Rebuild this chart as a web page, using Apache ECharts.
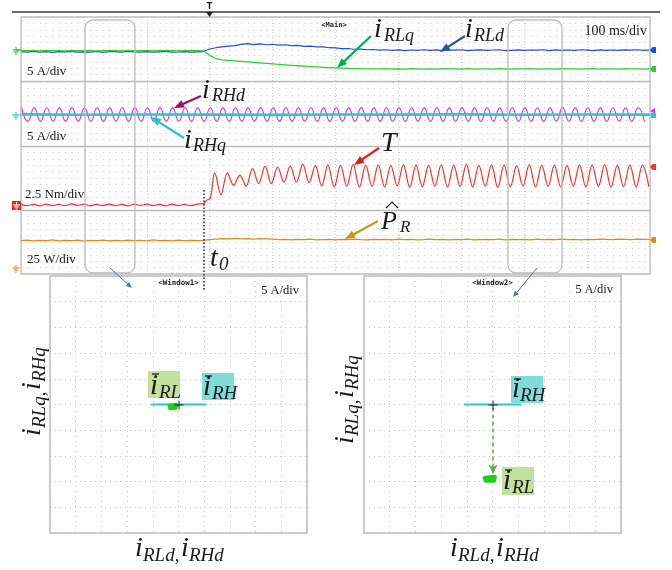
<!DOCTYPE html>
<html>
<head>
<meta charset="utf-8">
<script src="https://cdn.jsdelivr.net/npm/echarts@6.0.0/dist/echarts.min.js"></script>
<style>
html,body{margin:0;padding:0;background:#ffffff;}
#chart{width:672px;height:570px;}
</style>
</head>
<body>
<div id="chart"></div>
<script>
// ================= DATA =================
// time axis in ms, 100 ms/div, 10 divisions
const slowStepMs = 10;
// i_RLd (A), one value every 10 ms from 0 to 1000 ms
const iRLd = [
  -1.0,-1.5,-0.9,-1.4,-1.1,-1.6,-1.0,-1.3,-0.8,-1.5,-1.2,-1.4,-0.9,-1.6,-1.1,-1.0,-1.5,-0.9,-1.3,-1.4,
  -1.0,-1.5,-1.2,-0.9,-1.4,-1.3,-1.0,-1.5,-1.2,-1.0,
  1.0,2.0,2.6,3.3,3.6,4.6,5.2,4.4,5.0,4.3,4.7,4.0,4.3,3.6,3.8,3.1,3.2,2.6,2.7,2.0,
  1.9,1.3,1.4,0.8,0.9,0.4,0.6,0.1,0.4,-0.1,
  0.3,-0.2,0.2,0.0,0.4,-0.1,0.3,-0.3,0.2,0.1,0.4,-0.2,0.1,0.3,-0.1,0.2,0.4,-0.2,0.0,0.3,
  -0.1,0.2,0.1,0.4,-0.2,0.3,0.0,0.2,-0.1,0.4,0.1,-0.2,0.3,0.0,0.2,-0.1,0.3,0.1,0.4,-0.1,0.2
];
// i_RLq (A), every 10 ms
const iRLq = [
  -0.2,-0.3,-0.2,-0.4,-0.3,-0.2,-0.3,-0.4,-0.2,-0.3,-0.3,-0.2,-0.4,-0.3,-0.2,-0.3,-0.4,-0.3,-0.2,-0.3,
  -0.2,-0.4,-0.3,-0.3,-0.2,-0.4,-0.3,-0.2,-0.3,-0.4,
  -4.0,-6.6,-7.5,-7.9,-8.2,-8.6,-9.0,-9.4,-9.8,-10.2,-10.6,-11.0,-11.4,-11.8,-12.1,-12.4,-12.7,-13.0,-13.3,-13.6,
  -13.8,-14.0,-14.2,-14.3,-14.4,-14.5,-14.5,
  -14.6,-14.4,-14.7,-14.5,-14.8,-14.4,-14.6,-14.7,-14.5,-14.8,-14.4,-14.6,-14.5,-14.7,-14.4,-14.8,-14.6,-14.5,-14.7,-14.4,
  -14.6,-14.8,-14.5,-14.6,-14.4,-14.7,-14.5,-14.6,-14.8,-14.4,-14.6,-14.5,-14.7,-14.6,-14.4,-14.8,-14.5,-14.6,-14.7,-14.4,
  -14.6,-14.5,-14.7,-14.6
];
// i_RHq (A), every 100 ms
const iRHqStepMs = 100;
const iRHq = [0.2,-0.1,0.1,0.0,-0.2,0.1,0.0,0.2,-0.1,0.1,0.0];
// i_RHd (A): successive peaks / troughs, one every half period (10 ms), first at 1 ms
const iRHdStartMs = 1;
const iRHdHalfMs = 10;
const iRHd = [
  5.4,-5.2,5.3,-5.3,5.4,-5.1,5.3,-5.2,5.5,-5.2, 5.3,-5.3,5.4,-5.2,5.3,-5.1,5.4,-5.2,5.3,-5.3,
  5.4,-5.2,5.5,-5.2,5.3,-5.1,5.4,-5.3,5.3,-5.2, 5.4,-5.2,5.3,-5.3,5.4,-5.1,5.3,-5.2,5.5,-5.2,
  5.3,-5.2,5.4,-5.3,5.3,-5.1,5.4,-5.2,5.3,-5.2, 5.4,-5.3,5.3,-5.2,5.5,-5.1,5.3,-5.2,5.4,-5.3,
  5.3,-5.2,5.4,-5.1,5.3,-5.3,5.4,-5.2,5.3,-5.2, 5.5,-5.2,5.3,-5.3,5.4,-5.1,5.3,-5.2,5.4,-5.2,
  5.3,-5.3,5.4,-5.2,5.3,-5.1,5.5,-5.2,5.3,-5.3, 5.4,-5.2,5.3,-5.2,5.4,-5.1,5.3,-5.3,5.4,-5.2
];
// T (Nm): ripple before t0 (every 10 ms), the step at t0, then peaks/troughs every 10 ms
const T_pre = [0.3,-0.3,0.2,-0.4,0.3,-0.3,0.2,-0.3,0.4,-0.2,0.3,-0.4,0.2,-0.3,0.3,-0.3,0.2,-0.4,0.3,-0.2,
  0.3,-0.3,0.2,-0.4,0.3,-0.3,0.2,-0.3,0.3];
const T_stepTimes = [290, 295, 301];
const T_step = [0.5, 1.8, 2.6];
const T_postStartMs = 308;
const T_postHalfMs = 10;
const T_post = [
  12.5,4.0,12.5,7.7,11.6,7.3,14.2,8.3,15.1,8.3,14.8,8.9,15.1,8.9,15.9,8.7,
  15.3,7.4,15.6,7.0,15.4,7.3,15.8,6.9,15.5,7.2,15.6,7.0,15.3,7.4,15.7,6.8,15.5,7.1,15.4,7.3,
  15.6,6.9,15.5,7.2,15.8,7.0,15.4,7.3,15.6,6.8,15.5,7.1,15.3,7.4,15.7,7.0,15.5,7.2,15.6,6.9,
  15.4,7.3,15.6,7.0,15.5,7.2,15.7,6.9,15.4,7.1,15.6,7.0,15.5,7.3
];
// P_R estimate (W), every 10 ms
const P_R = [
  107,109,106,108,107,110,106,108,107,109,105,108,107,109,106,108,106,109,107,108,
  106,110,107,108,106,109,107,108,107,108,
  111,113,115,114,116,114,115,113,115,114,113,
  111,112,110,112,111,113,110,111,112,110,112,111,113,111,110,112,111,112,110,113,
  111,112,110,111,113,111,112,110,112,111,113,110,111,112,111,113,110,112,111,112,
  110,113,111,112,111,113,111,112,110,112,111,113,112,111,113,112,111,113,112,112
];
// XY windows (A): Window1 before t0, Window2 after t0
const w1_iRH = [[-5.2,0.0],[5.3,0.0]];
const w1_iRL = [[-1.7,-0.3],[-0.5,-0.1],[-0.6,-0.6],[-1.6,-0.7],[-1.5,-0.3],[-0.7,-0.4]];
const w2_iRH = [[-5.4,0.0],[5.4,0.0]];
const w2_iRL = [[-1.5,-14.3],[0.4,-14.1],[0.3,-14.8],[-1.3,-14.8],[-1.4,-14.4],[0.2,-14.5]];
const w2_shift = [[0.1,-0.6],[0.1,-13.4]];
const origin = [[0.1,-0.1]];

// ================= BUILD =================
const FONT = '"Liberation Serif","Times New Roman",serif';
const GRAY = '#bdbdbd';
const strips = [
  {top:17,  height:64, min:-24,   max:26,    interval:5},
  {top:81,  height:65, min:-24.5, max:26.3,  interval:5},
  {top:146, height:64, min:-2,    max:23,    interval:2.5},
  {top:210, height:64, min:-23.4, max:226.6, interval:25}
];
const grids = strips.map(s => ({left:21, top:s.top, width:629, height:s.height}));
grids.push({left:50, top:276, width:257, height:257});
grids.push({left:364, top:276, width:257, height:257});

const xAxes = strips.map((s,i) => ({
  gridIndex:i, type:'value', min:0, max:1000, interval:100,
  axisLine:{show:i<3, onZero:false, lineStyle:{color:GRAY, width:1.3}},
  axisTick:{show:false}, axisLabel:{show:false},
  splitLine:{show:true, lineStyle:{color:'#d2d2d2', type:[1,2], width:1}}
}));
const yAxes = strips.map((s,i) => ({
  gridIndex:i, type:'value', min:s.min, max:s.max, interval:s.interval,
  axisLine:{show:false}, axisTick:{show:false}, axisLabel:{show:false},
  splitLine:{show:true, lineStyle:{color:'#c8c8c8', type:[1,5.3], width:1}}
}));
[4,5].forEach(gi => {
  const ax = {gridIndex:gi, type:'value', min:-25, max:25, interval:5,
    axisLine:{show:false}, axisTick:{show:false}, axisLabel:{show:false},
    splitLine:{show:true, lineStyle:{color:'#c8c8c8', type:[1,4], width:1}}};
  xAxes.push(Object.assign({}, ax));
  yAxes.push(Object.assign({}, ax));
});

const dRLd = iRLd.map((v,i) => [i*slowStepMs, v]);
const dRLq = iRLq.map((v,i) => [i*slowStepMs, v]);
const dRHq = iRHq.map((v,i) => [i*iRHqStepMs, v]);
const dRHd = iRHd.map((v,i) => [iRHdStartMs + i*iRHdHalfMs, v]);
const dT = [];
T_pre.forEach((v,i) => dT.push([i*slowStepMs, v]));
T_stepTimes.forEach((t,i) => dT.push([t, T_step[i]]));
T_post.forEach((v,i) => dT.push([T_postStartMs + i*T_postHalfMs, v]));
const dP = P_R.map((v,i) => [i*slowStepMs, v]);

function ln(data, xi, color, w, extra) {
  return Object.assign({type:'line', xAxisIndex:xi, yAxisIndex:xi, data:data, showSymbol:false,
    symbol:'none', lineStyle:{color:color, width:w, cap:'round', join:'round'}, itemStyle:{color:color}, animation:false}, extra||{});
}
const cross = 'path://M4,0H5V4H9V5H5V9H4V5H0V4H4Z';
const series = [
  ln(dRLd, 0, '#1f4fd6', 1.2),
  ln(dRLq, 0, '#2fd02f', 1.3),
  ln(dRHd, 1, '#d93bd9', 1.2, {smooth:0.5}),
  ln(dRHq, 1, '#27c8cf', 2.6),
  ln(dT, 2, '#ff2e2e', 1.2, {smooth:0.35}),
  ln(dP, 3, '#e0891e', 1.3),
  ln(w1_iRH, 4, '#27c8cf', 2),
  ln(w1_iRL, 4, '#1fcf1f', 4.5),
  {type:'scatter', xAxisIndex:4, yAxisIndex:4, data:origin, symbol:cross, symbolSize:9,
    itemStyle:{color:'#000'}, animation:false, z:5},
  ln(w2_iRH, 5, '#27c8cf', 2, {markLine:{silent:true, symbol:['none','arrow'], symbolSize:[7,9],
    label:{show:false}, lineStyle:{type:[4,3], color:'#6aa84f', width:1.5}, animation:false,
    data:[[{coord:w2_shift[0]},{coord:w2_shift[1]}]]}}),
  ln(w2_iRL, 5, '#1fcf1f', 4.5),
  {type:'scatter', xAxisIndex:5, yAxisIndex:5, data:origin, symbol:cross, symbolSize:9,
    itemStyle:{color:'#000'}, animation:false, z:5}
];

// ---------- decorations ----------
const g = [];
function txt(x, yc, s, size, opt) {
  opt = opt || {};
  const font = (opt.italic ? 'italic ' : '') + (opt.bold ? 'bold ' : '') + size + 'px ' + (opt.family || FONT);
  return {type:'text', x:x, y:yc, z:80, rotation:opt.rot||0,
    style:{text:s, font:font, fill:opt.color||'#1a1a1a',
      align:opt.align||'left', verticalAlign:'middle',
      textAlign:opt.align||'left', textVerticalAlign:'middle'}};
}
// baseline-positioned italic math text
function mt(x, base, s, size, color) { return txt(x, base - 0.32*size, s, size, {italic:true, color:color}); }
function line(x1,y1,x2,y2,color,w,dash,z) {
  return {type:'line', z:z||70, shape:{x1:x1,y1:y1,x2:x2,y2:y2},
    style:{stroke:color, lineWidth:w, lineDash:dash||null}};
}
function arrow(x1,y1,x2,y2,color,w,hl,hw) {
  const dx=x2-x1, dy=y2-y1, L=Math.hypot(dx,dy), ux=dx/L, uy=dy/L;
  const bx=x2-ux*hl, by=y2-uy*hl;
  return [
    line(x1,y1,bx+ux,by+uy,color,w),
    {type:'polygon', z:70, shape:{points:[[x2,y2],[bx-uy*hw/2,by+ux*hw/2],[bx+uy*hw/2,by-ux*hw/2]]},
      style:{fill:color}}
  ];
}
function ground(x, y, color) {
  return [line(x,y,x,y+3,color,1), line(x-3.5,y+3,x+3.5,y+3,color,1.2),
          line(x-2.2,y+5,x+2.2,y+5,color,1.2), line(x-1,y+7,x+1,y+7,color,1.2)];
}
// frame lines
g.push(line(12,12,660,12,'#3a3a3a',1.5,null,5));
g.push({type:'rect', z:5, shape:{x:21,y:17,width:629,height:257}, style:{fill:'none', stroke:GRAY, lineWidth:1.3}});
g.push({type:'rect', z:5, shape:{x:85,y:20,width:50,height:253,r:8}, style:{fill:'none', stroke:GRAY, lineWidth:1.3}});
g.push({type:'rect', z:5, shape:{x:508,y:20,width:54,height:253,r:8}, style:{fill:'none', stroke:GRAY, lineWidth:1.3}});
g.push({type:'rect', z:5, shape:{x:50,y:276,width:257,height:257}, style:{fill:'none', stroke:GRAY, lineWidth:1.5}});
g.push({type:'rect', z:5, shape:{x:364,y:276,width:257,height:257}, style:{fill:'none', stroke:GRAY, lineWidth:1.5}});
// trigger marker
g.push(txt(209.5, 7, 'T', 8, {bold:true, align:'center', family:'"DejaVu Sans"'}));
g.push({type:'polygon', z:80, shape:{points:[[206,12],[213,12],[209.5,17]]}, style:{fill:'#222'}});
// channel markers left
ground(16, 47, '#2fc02f').forEach(e => g.push(e));
g.push(line(16,50,21,50,'#2fc02f',1.2));
ground(16, 112, '#27c8cf').forEach(e => g.push(e));
g.push({type:'rect', z:70, shape:{x:12,y:201,width:9,height:9}, style:{fill:'#f02020'}});
ground(16.5, 202, '#ffffff').forEach(e => g.push(e));
ground(16, 265, '#e0891e').forEach(e => g.push(e));
// channel markers right
function pent(y, color) {
  return {type:'polygon', z:70, shape:{points:[[650,y],[652.5,y-3],[656,y-3],[656,y+3],[652.5,y+3]]}, style:{fill:color}};
}
g.push(pent(50, '#1f4fd6'));
g.push(pent(69, '#2fd02f'));
g.push({type:'polygon', z:70, shape:{points:[[650,111],[655,108],[655,114]]}, style:{fill:'#d93bd9'}});
g.push({type:'rect', z:70, shape:{x:651,y:113,width:5,height:5}, style:{fill:'#27c8cf'}});
g.push(pent(167, '#ff2e2e'));
g.push(pent(240, '#e0891e'));
// scale texts
g.push(txt(27, 72, '5 A/div', 13));
g.push(txt(27, 137, '5 A/div', 13));
g.push(txt(25, 195, '2.5 Nm/div', 13));
g.push(txt(27, 260, '25 W/div', 13));
g.push(txt(647, 31, '100 ms/div', 14, {align:'right'}));
g.push(txt(334, 25, '<Main>', 7, {bold:true, align:'center', family:'"DejaVu Sans Mono"'}));
g.push(txt(178.5, 283.5, '<Window1>', 7.5, {bold:true, align:'center', family:'"DejaVu Sans Mono"'}));
g.push(txt(492.5, 283.5, '<Window2>', 7.5, {bold:true, align:'center', family:'"DejaVu Sans Mono"'}));
g.push(txt(299, 291, '5 A/div', 12.5, {align:'right'}));
g.push(txt(613, 290, '5 A/div', 12.5, {align:'right'}));
// t0 dotted marker
g.push(line(204,190,204,290,'#222',1.5,[1.5,2]));
// leader arrows from window boxes
arrow(110,268,132,288,'#4472c4',1,6,5).forEach(e => g.push(e));
arrow(537,268,513,297,'#4472c4',1,6,5).forEach(e => g.push(e));
// signal labels with arrows
g.push(mt(374, 39, 'i', 28)); g.push(mt(384, 42, 'RLq', 18));
arrow(371,36,337,68,'#00b050',2.2,10,8).forEach(e => g.push(e));
g.push(mt(465, 39, 'i', 28)); g.push(mt(474, 42, 'RLd', 18));
arrow(465,36,440,52,'#2f5597',2.2,10,8).forEach(e => g.push(e));
g.push(mt(202, 100, 'i', 28)); g.push(mt(212, 102, 'RHd', 18));
arrow(201,96,174,108,'#9e1070',2.2,10,8).forEach(e => g.push(e));
g.push(mt(184, 150, 'i', 28)); g.push(mt(193, 152, 'RHq', 18));
arrow(184,138,151,117,'#25c5c5',2.2,10,8).forEach(e => g.push(e));
g.push(mt(381, 153, 'T', 28));
arrow(379,148,354,165,'#e81818',2.2,10,8).forEach(e => g.push(e));
g.push(mt(381, 230, 'P', 26)); g.push(mt(400, 233, 'R', 17));
g.push({type:'polyline', z:80, shape:{points:[[386,208],[392,202],[398,208]]}, style:{stroke:'#111', lineWidth:1.2, fill:null}});
arrow(378,221,345,239,'#c9971a',2.2,10,8).forEach(e => g.push(e));
g.push(mt(210, 268, 't', 28)); g.push(mt(219, 271, '0', 19));
// XY label boxes
function barLabel(bx, by, bw, bh, fill, ix, ib, sub, sx, sb) {
  g.push({type:'rect', z:60, shape:{x:bx,y:by,width:bw,height:bh}, style:{fill:fill}});
  g.push(mt(ix, ib, 'i', 29));
  g.push(line(ix+2, by+3, ix+9, by+3, '#111', 1.2));
  g.push(mt(sx, sb, sub, 19));
}
barLabel(148,371,32,27,'#c3e09c', 150,396, 'RL', 159,399);
barLabel(202,373,32,27,'#7fdcd9', 203,397, 'RH', 212,400);
barLabel(511,376,32,27,'#7fdcd9', 512,399, 'RH', 520,402);
barLabel(502,467,32,28,'#c3e09c', 503,491, 'RL', 512,494);
// XY axis titles
function xyTitle(x, base) {
  g.push(mt(x, base, 'i', 28)); g.push(mt(x+8, base+4, 'RLd,', 19));
  g.push(mt(x+46, base, 'i', 28)); g.push(mt(x+54, base+4, 'RHd', 19));
}
xyTitle(135, 558);
xyTitle(450, 558);
function vTitle(x, y) {
  const ch = [];
  const add = (lx, lb, s, size) => { const t = mt(lx, lb, s, size); ch.push(t); };
  add(0, 0, 'i', 28); add(8, 4, 'RLq,', 19); add(46, 0, 'i', 28); add(54, 4, 'RHq', 19);
  g.push({type:'group', x:x, y:y, rotation:Math.PI/2, z:80, children:ch});
}
vTitle(42, 436);
vTitle(355, 444);

const chart = echarts.init(document.getElementById('chart'), null, {renderer:'canvas'});
chart.setOption({
  animation:false,
  backgroundColor:'#ffffff',
  grid:grids, xAxis:xAxes, yAxis:yAxes, series:series,
  graphic:{elements:g}
});
</script>
</body>
</html>
